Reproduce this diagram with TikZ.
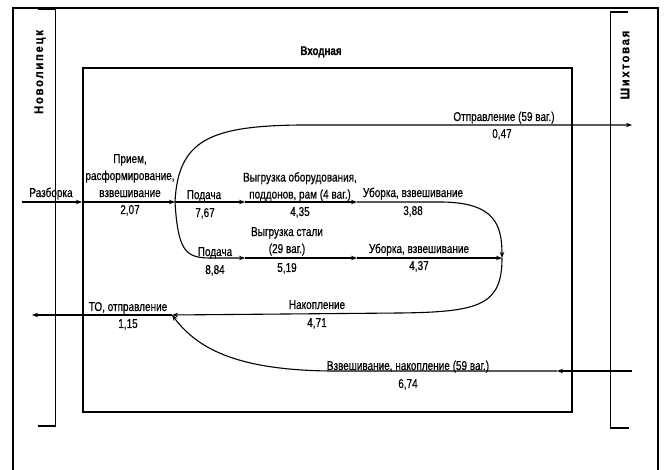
\documentclass[tikz,border=0pt]{standalone}
\usepackage{fontspec}
\setmainfont{Liberation Sans}[FakeStretch=0.78,FakeBold=0.5]
\newfontfamily\spacedfont{Liberation Sans}[LetterSpace=14,FakeStretch=0.9,FakeBold=0.6]
\usetikzlibrary{arrows.meta}
\begin{document}
\begin{tikzpicture}[x=1pt,y=-1pt,
  lbl/.style={font=\fontsize{12.8}{17}\selectfont,inner sep=0pt,anchor=base},
  mlbl/.style={font=\fontsize{12.8}{17}\selectfont,inner sep=0pt,anchor=north,align=center},
  vlbl/.style={font=\spacedfont\bfseries\fontsize{12.5}{14}\selectfont,inner sep=0pt,rotate=90},
  flow/.style={line width=1.1pt,-{Stealth[length=6pt,width=4.5pt]}},
  frame/.style={line width=2.5pt},
  bracketline/.style={line width=0.9pt},
  bracketend/.style={line width=2pt},
  box/.style={line width=1.2pt}
]
\useasboundingbox (0,0) rectangle (665,470);
% outer frame
\draw[frame] (13,470) -- (13,8) -- (658,8) -- (658,470);
% left bracket
\draw[bracketline] (55,9) -- (55,426);
\draw[bracketend] (38,9) -- (55.5,9);
\draw[bracketend] (38,426) -- (55.5,426);
% right bracket
\draw[bracketline] (610,12) -- (610,428);
\draw[bracketend] (609.5,12) -- (628,12);
\draw[bracketend] (609.5,428) -- (629,428);
% inner box
\draw[box] (83,68) rectangle (572,412);

% titles
\node[vlbl] (nov) at (40,72) {Новолипецк};
\node[vlbl] (shih) at (625,65) {Шихтовая};
\node[lbl,font=\bfseries\fontsize{12.5}{14}\selectfont] (vh) at (321,55) {Входная};

% points
\coordinate (inL) at (22,202);
\coordinate (boxIn) at (82,202);
\coordinate (br) at (175,202);
\coordinate (p1) at (245,202);
\coordinate (p2) at (357,202);
\coordinate (m) at (502,258);
\coordinate (q1) at (245,258);
\coordinate (q2) at (357,258);
\coordinate (acc) at (172,315);
\coordinate (outL) at (32,315);
\coordinate (outR) at (632,125);
\coordinate (inR) at (632,371);
\coordinate (rIn) at (557,371);

% connectors
\draw[flow] (inL) -- (boxIn);
\draw[flow] (boxIn) -- (br);
\draw[flow] (br) -- (p1);
\draw[flow] (p1) -- (p2);
\draw[flow] (p2) -- (440,202) .. controls (495,202) and (502,225) .. (m);
\draw[flow] (br) .. controls (178,250) and (185,258) .. (210,258) -- (q1);
\draw[flow] (q1) -- (q2);
\draw[flow] (q2) -- (m);
\draw[flow] (m) .. controls (502,305) and (480,312) .. (400,313) -- (acc);
\draw[flow] (acc) -- (outL);
\draw[flow] (br) .. controls (178,140) and (210,126) .. (300,125) -- (outR);
\draw[flow] (inR) -- (rIn);
\draw[flow] (rIn) -- (330,371) .. controls (230,370) and (195,345) .. (acc);

% labels
\node[lbl] (t1) at (51,197) {Разборка};
\node[mlbl] (t2) at (130,154) {Прием,\\расформирование,\\взвешивание};
\node[lbl] (n2) at (130,214) {2,07};
\node[lbl] (t3) at (204,199) {Подача};
\node[lbl] (n3) at (205,217) {7,67};
\node[mlbl] (t4) at (300,172) {Выгрузка оборудования,\\поддонов, рам (4 ваг.)};
\node[lbl] (n4) at (300,216) {4,35};
\node[lbl] (t5) at (413,197) {Уборка, взвешивание};
\node[lbl] (n5) at (413,215) {3,88};
\node[lbl] (t6) at (215,256) {Подача};
\node[lbl] (n6) at (215,274) {8,84};
\node[mlbl] (t7) at (287,227) {Выгрузка стали\\(29 ваг.)};
\node[lbl] (n7) at (287,272) {5,19};
\node[lbl] (t8) at (419,253) {Уборка, взвешивание};
\node[lbl] (n8) at (419,270) {4,37};
\node[lbl] (t9) at (317,309) {Накопление};
\node[lbl] (n9) at (317,327) {4,71};
\node[lbl] (t10) at (128,311) {ТО, отправление};
\node[lbl] (n10) at (128,328) {1,15};
\node[lbl] (t11) at (504,121) {Отправление (59 ваг.)};
\node[lbl] (n11) at (502,138) {0,47};
\node[lbl] (t12) at (408,370) {Взвешивание, накопление (59 ваг.)};
\node[lbl] (n12) at (408,388) {6,74};
\end{tikzpicture}
\end{document}
